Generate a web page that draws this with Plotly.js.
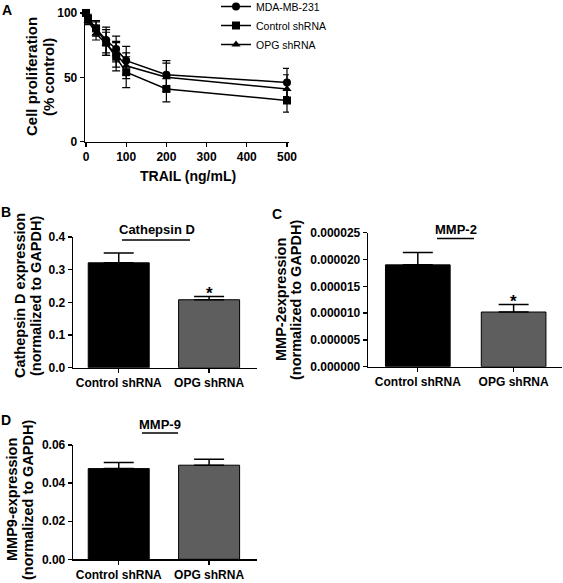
<!DOCTYPE html>
<html>
<head>
<meta charset="utf-8">
<script src="https://cdn.plot.ly/plotly-3.0.1.min.js"></script>
<style>html,body{margin:0;padding:0;background:#fff;}#chart{width:563px;height:583px;}</style>
</head>
<body>
<div id="chart"></div>
<script>
// ---- Panel A data ----
const trailDose = [0, 5, 25, 50, 75, 100, 200, 500];
const mdaMean = [100, 96, 88, 79, 72, 63, 52, 46];
const mdaErr = [0, 3, 6, 10, 10, 11, 11, 11];
const controlMean = [100, 95, 88, 77, 66, 54, 41, 32];
const controlErr = [0, 3, 5, 10, 11, 12, 10, 9];
const opgMean = [100, 94, 84, 76, 68, 59, 50, 41];
const opgErr = [0, 3, 5, 9, 10, 10, 11, 11];
const seriesNames = ['MDA-MB-231', 'Control shRNA', 'OPG shRNA'];
const xTicksA = [0, 100, 200, 300, 400, 500];
const yTicksA = [0, 50, 100];

// ---- Bar panels data ----
const barCategories = ['Control shRNA', 'OPG shRNA'];
const cathepsinMean = [0.321, 0.208];
const cathepsinSem = [0.030, 0.010];
const mmp2Mean = [0.0000190, 0.0000102];
const mmp2Sem = [0.0000023, 0.0000014];
const mmp9Mean = [0.0476, 0.0494];
const mmp9Sem = [0.0032, 0.0031];
const significance = ['', '*'];
const cathepsinTicks = [0, 0.1, 0.2, 0.3, 0.4];
const mmp2Ticks = [0, 0.000005, 0.00001, 0.000015, 0.00002, 0.000025];
const mmp9Ticks = [0, 0.02, 0.04, 0.06];

const FONT = 'Liberation Sans, Arial, Helvetica, sans-serif';
const W = 563, H = 583;
const px = v => v / W;
const py = v => 1 - v / H;

const barColors = ['#000000', '#5e5e5e'];

const lineSpecs = [
  {y: mdaMean, e: mdaErr, sym: 'circle', size: 8},
  {y: controlMean, e: controlErr, sym: 'square', size: 8},
  {y: opgMean, e: opgErr, sym: 'triangle-up', size: 8}
];

const traces = lineSpecs.map((s, i) => ({
  type: 'scatter', mode: 'lines+markers', name: seriesNames[i],
  x: trailDose, y: s.y,
  xaxis: 'x', yaxis: 'y',
  line: {color: '#000', width: 1.5},
  marker: {symbol: s.sym, size: s.size, color: '#000'},
  error_y: {type: 'data', array: s.e, visible: true, color: '#000', thickness: 1.2, width: 4},
  cliponaxis: false
}));

function barTrace(means, sems, xa, ya) {
  return {
    type: 'bar', x: barCategories, y: means, xaxis: xa, yaxis: ya,
    width: 0.675, showlegend: false,
    marker: {color: barColors, line: {color: '#000', width: 1}},
    error_y: {type: 'data', array: sems, arrayminus: sems.map(() => 0), visible: true, color: '#000', thickness: 1.5, width: 15}
  };
}
traces.push(barTrace(cathepsinMean, cathepsinSem, 'x2', 'y2'));
traces.push(barTrace(mmp2Mean, mmp2Sem, 'x3', 'y3'));
traces.push(barTrace(mmp9Mean, mmp9Sem, 'x4', 'y4'));

const tickFont = {family: FONT, size: 12, color: '#000', weight: 'bold'};
const axBase = {
  showgrid: false, zeroline: false, showline: true, linecolor: '#000', linewidth: 1.3,
  ticks: 'outside', ticklen: 4, tickwidth: 1.3, tickcolor: '#000', tickfont: tickFont,
  fixedrange: true, automargin: false
};

const layout = {
  width: W, height: H,
  margin: {l: 0, r: 0, t: 0, b: 0, autoexpand: false},
  paper_bgcolor: '#fff', plot_bgcolor: 'rgba(0,0,0,0)',
  font: {family: FONT, color: '#000'},
  showlegend: true,
  legend: {
    x: px(216), y: py(-8), xanchor: 'left', yanchor: 'top',
    font: {family: FONT, size: 10.5, color: '#000'},
    bgcolor: 'rgba(0,0,0,0)', tracegroupgap: 0, itemwidth: 30
  },
  xaxis: Object.assign({}, axBase, {domain: [px(85), px(289)], range: [-2.5, 505], tickvals: xTicksA, anchor: 'y'}),
  yaxis: Object.assign({}, axBase, {domain: [py(141.7), py(10)], range: [0, 102.3], tickvals: yTicksA, anchor: 'x'}),
  xaxis2: Object.assign({}, axBase, {domain: [px(73), px(257)], range: [-0.506, 1.53], anchor: 'y2', type: 'category'}),
  yaxis2: Object.assign({}, axBase, {domain: [py(367.7), py(237)], range: [0, 0.4], tickvals: cathepsinTicks, tickformat: '.1f', anchor: 'x2'}),
  xaxis3: Object.assign({}, axBase, {domain: [px(368), px(562)], range: [-0.52, 1.505], anchor: 'y3', type: 'category'}),
  yaxis3: Object.assign({}, axBase, {domain: [py(366.7), py(232.7)], range: [0, 0.000025], tickvals: mmp2Ticks, tickformat: '.6f', anchor: 'x3'}),
  xaxis4: Object.assign({}, axBase, {domain: [px(73), px(257)], range: [-0.506, 1.53], anchor: 'y4', type: 'category'}),
  yaxis4: Object.assign({}, axBase, {domain: [py(559.3), py(445)], range: [0, 0.06], tickvals: mmp9Ticks, tickformat: '.2f', anchor: 'x4'}),
  annotations: [],
  shapes: []
};

const ann = layout.annotations;
function label(text, x, y, size, extra) {
  ann.push(Object.assign({
    text: text, xref: 'paper', yref: 'paper', x: px(x), y: py(y),
    xanchor: 'center', yanchor: 'middle', showarrow: false,
    font: {family: FONT, size: size, color: '#000', weight: 'bold'}
  }, extra || {}));
}
// Panel letters
label('A', 7, 10, 14);
label('B', 6, 212, 14);
label('C', 277, 214, 14);
label('D', 6, 420, 14);
// Axis titles (panel A)
label('TRAIL (ng/mL)', 188, 176, 14);
label('Cell proliferation', 32, 77, 15, {textangle: -90});
label('(% control)', 49, 77, 15, {textangle: -90});
// Axis titles (bars)
label('Cathepsin D expression', 20, 296, 14.5, {textangle: -90});
label('(normalized to GAPDH)', 36, 296, 14.5, {textangle: -90});
label('MMP-2expression', 281, 300, 14.5, {textangle: -90});
label('(normalized to GAPDH)', 296, 300, 14.5, {textangle: -90});
label('MMP9-expression', 12, 500, 14.5, {textangle: -90});
label('(normalized to GAPDH)', 28, 500, 14.5, {textangle: -90});
// Panel titles with underline
label('Cathepsin D', 157, 229, 13);
label('MMP-2', 456, 229, 13);
label('MMP-9', 160, 424, 13);
layout.shapes.push(
  {type: 'line', xref: 'paper', yref: 'paper', x0: px(122), x1: px(190), y0: py(240), y1: py(240), line: {color: '#000', width: 1.3}},
  {type: 'line', xref: 'paper', yref: 'paper', x0: px(437), x1: px(474), y0: py(238.5), y1: py(238.5), line: {color: '#000', width: 1.3}},
  {type: 'line', xref: 'paper', yref: 'paper', x0: px(142), x1: px(178), y0: py(433), y1: py(433), line: {color: '#000', width: 1.3}}
);
// Significance stars
[[cathepsinMean, cathepsinSem, 'x2', 'y2'], [mmp2Mean, mmp2Sem, 'x3', 'y3'], [mmp9Mean, mmp9Sem, 'x4', 'y4']].forEach(([m, s, xa, ya]) => {
  barCategories.forEach((c, i) => {
    if (!significance[i] || xa === 'x4') return;
    ann.push({text: significance[i], xref: xa, yref: ya, x: c, y: m[i] + s[i], xanchor: 'center', yanchor: 'middle',
      yshift: 3, showarrow: false, font: {family: FONT, size: 17, color: '#000', weight: 'bold'}});
  });
});

Plotly.newPlot('chart', traces, layout, {staticPlot: true, displayModeBar: false});
</script>
</body>
</html>
